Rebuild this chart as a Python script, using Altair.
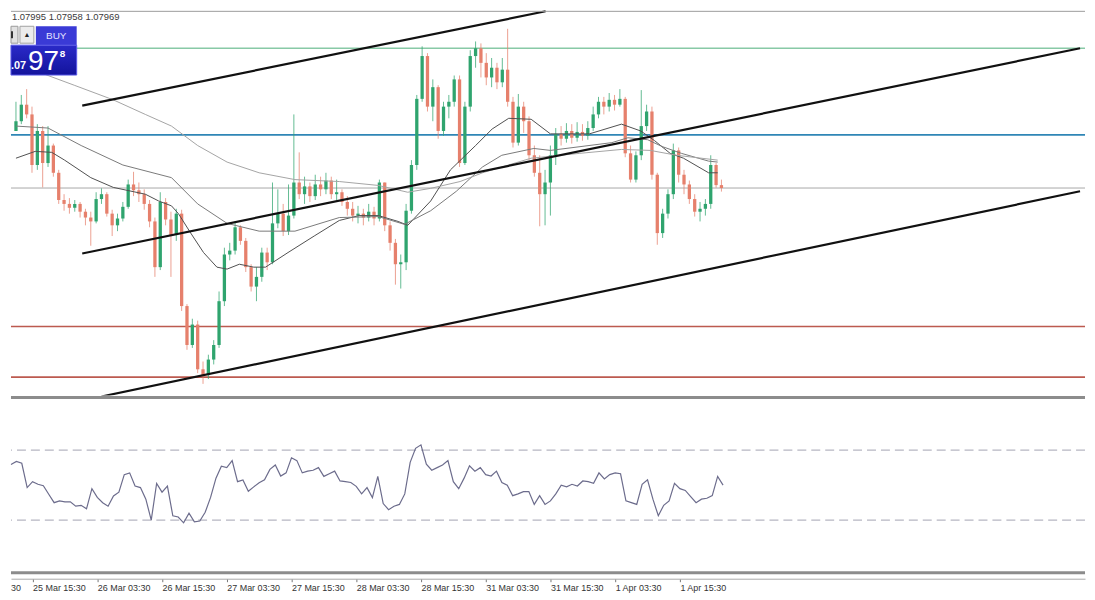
import json
import altair as alt
import pandas as pd

W = 1079
H_MAIN = 388
H_RSI = 176

# ---------------- data ----------------
bar_index = list(range(-4, 129))          # H1 bars, 0 = 25 Mar 15:30
first_open = 1.08145

close_px = [
    1.08175, 1.08226, 1.08196, 1.08040, 1.08145, 1.08046, 1.08100, 1.08016, 1.07932, 1.07920,
    1.07908, 1.07920, 1.07896, 1.07878, 1.07866, 1.07935, 1.07950, 1.07890, 1.07854, 1.07875,
    1.07911, 1.07980, 1.07962, 1.07950, 1.07920, 1.07866, 1.07725, 1.07926, 1.07872, 1.07824,
    1.07890, 1.07605, 1.07485, 1.07548, 1.07410, 1.07392, 1.07440, 1.07485, 1.07620, 1.07764,
    1.07776, 1.07848, 1.07806, 1.07725, 1.07665, 1.07695, 1.07770, 1.07740, 1.07860, 1.07890,
    1.07836, 1.07884, 1.07986, 1.07950, 1.07974, 1.07944, 1.07980, 1.07965, 1.07992, 1.07950,
    1.07956, 1.07926, 1.07905, 1.07884, 1.07890, 1.07878, 1.07896, 1.07875, 1.07986, 1.07854,
    1.07800, 1.07734, 1.07740, 1.07899, 1.08040, 1.08244, 1.08376, 1.08220, 1.08280, 1.08145,
    1.08220, 1.08235, 1.08304, 1.08046, 1.08220, 1.08376, 1.08400, 1.08355, 1.08310, 1.08340,
    1.08295, 1.08334, 1.08235, 1.08109, 1.08220, 1.08175, 1.08070, 1.08016, 1.07950, 1.07986,
    1.08070, 1.08136, 1.08121, 1.08145, 1.08124, 1.08142, 1.08130, 1.08154, 1.08196, 1.08235,
    1.08220, 1.08241, 1.08226, 1.08244, 1.08076, 1.07995, 1.08070, 1.08160, 1.08205, 1.08010,
    1.07830, 1.07890, 1.07950, 1.08085, 1.08010, 1.07980, 1.07935, 1.07896, 1.07905, 1.07920,
    1.08040, 1.07978, 1.07969,
]
high_px = [
    1.08235, 1.08256, 1.08274, 1.08220, 1.08166, 1.08160, 1.08160, 1.08106, 1.08025, 1.07950,
    1.07938, 1.07932, 1.07926, 1.07905, 1.07896, 1.07956, 1.07968, 1.07956, 1.07902, 1.07890,
    1.07926, 1.07995, 1.08019, 1.07986, 1.07965, 1.07932, 1.07878, 1.07956, 1.07938, 1.07896,
    1.07905, 1.07902, 1.07611, 1.07566, 1.07560, 1.07434, 1.07455, 1.07500, 1.07650, 1.07785,
    1.07800, 1.07866, 1.07854, 1.07815, 1.07734, 1.07725, 1.07785, 1.07785, 1.07986, 1.07965,
    1.07920, 1.07980, 1.08196, 1.08079, 1.08004, 1.07986, 1.08010, 1.08004, 1.08016, 1.08004,
    1.07995, 1.07965, 1.07944, 1.07926, 1.07914, 1.07905, 1.07920, 1.07911, 1.07995, 1.07986,
    1.07866, 1.07812, 1.07764, 1.07920, 1.08055, 1.08256, 1.08406, 1.08385, 1.08304, 1.08286,
    1.08235, 1.08256, 1.08316, 1.08316, 1.08235, 1.08394, 1.08421, 1.08415, 1.08385, 1.08370,
    1.08355, 1.08370, 1.08460, 1.08250, 1.08259, 1.08235, 1.08190, 1.08100, 1.08070, 1.08025,
    1.08100, 1.08154, 1.08160, 1.08169, 1.08166, 1.08172, 1.08166, 1.08175, 1.08220, 1.08250,
    1.08250, 1.08262, 1.08256, 1.08274, 1.08250, 1.08100, 1.08082, 1.08271, 1.08226, 1.08220,
    1.08016, 1.07905, 1.07965, 1.08106, 1.08094, 1.08025, 1.07992, 1.07950, 1.07926, 1.07935,
    1.08070, 1.08046, 1.07995,
]
low_px = [
    1.08145, 1.08166, 1.08184, 1.08016, 1.08025, 1.07971, 1.08034, 1.08004, 1.07920, 1.07899,
    1.07890, 1.07896, 1.07878, 1.07854, 1.07791, 1.07860, 1.07920, 1.07881, 1.07821, 1.07836,
    1.07866, 1.07905, 1.07944, 1.07926, 1.07902, 1.07848, 1.07695, 1.07716, 1.07854, 1.07695,
    1.07806, 1.07590, 1.07470, 1.07476, 1.07398, 1.07365, 1.07380, 1.07425, 1.07476, 1.07605,
    1.07746, 1.07764, 1.07794, 1.07710, 1.07650, 1.07620, 1.07680, 1.07716, 1.07734, 1.07845,
    1.07821, 1.07824, 1.07875, 1.07935, 1.07920, 1.07926, 1.07932, 1.07944, 1.07950, 1.07935,
    1.07932, 1.07914, 1.07884, 1.07866, 1.07860, 1.07854, 1.07866, 1.07854, 1.07866, 1.07836,
    1.07776, 1.07671, 1.07659, 1.07716, 1.07890, 1.08025, 1.08235, 1.08205, 1.08175, 1.08121,
    1.08130, 1.08184, 1.08220, 1.08034, 1.08040, 1.08205, 1.08340, 1.08310, 1.08286, 1.08280,
    1.08274, 1.08280, 1.08220, 1.08094, 1.08100, 1.08139, 1.08055, 1.08004, 1.07851, 1.07854,
    1.07884, 1.08040, 1.08100, 1.08109, 1.08106, 1.08112, 1.08115, 1.08118, 1.08145, 1.08184,
    1.08196, 1.08205, 1.08208, 1.08220, 1.08064, 1.07986, 1.07986, 1.08055, 1.08145, 1.07995,
    1.07794, 1.07815, 1.07875, 1.07935, 1.07986, 1.07950, 1.07920, 1.07881, 1.07866, 1.07884,
    1.07905, 1.07970, 1.07958,
]
rsi_values = [
    61.8, 63.5, 62.5, 48.6, 52.0, 50.5, 49.7, 44.8, 40.0, 41.0,
    40.5, 40.5, 38.0, 38.5, 36.5, 48.0, 43.0, 40.0, 38.0, 43.8,
    46.0, 56.0, 57.0, 49.5, 48.6, 42.0, 30.0, 51.0, 46.0, 49.5,
    32.5, 31.8, 28.5, 34.0, 29.0, 29.5, 34.5, 43.0, 54.0, 60.8,
    60.0, 64.0, 52.0, 53.0, 46.5, 49.0, 51.4, 53.0, 59.0, 61.5,
    55.2, 57.0, 65.6, 64.0, 57.0, 58.0, 58.5, 60.0, 55.0, 56.5,
    58.0, 52.4, 52.0, 51.5, 49.3, 45.0, 48.6, 42.9, 55.0, 39.5,
    36.0, 38.0, 39.0, 45.0, 63.0, 71.0, 73.0, 62.0, 58.5, 60.0,
    61.5, 64.0, 52.0, 48.0, 54.0, 61.0, 58.0, 60.0, 56.0, 55.2,
    58.0, 51.5, 50.0, 44.0, 45.0, 46.3, 46.3, 39.0, 44.0, 39.0,
    41.0, 45.0, 50.0, 49.0, 50.5, 49.5, 52.4, 52.0, 51.0, 57.0,
    53.5, 56.0, 57.0, 56.5, 41.0, 40.0, 39.0, 50.5, 53.0, 42.0,
    32.5, 38.5, 41.0, 51.0, 48.0, 47.0, 43.5, 40.0, 42.0, 42.5,
    44.0, 55.0, 50.0,
]

ma_fast_k = [-4.0, -0.4, 2.7, 5.1, 10.0, 14.2, 20.2, 22.7, 25.1, 26.4, 28.7, 31.1, 33.6,
             35.5, 37.8, 40.5, 42.7, 46.9, 51.8, 56.5, 60.2, 63.8, 67.5, 69.3, 73.6, 77.3,
             82.0, 85.1, 88.2, 92.4, 96.0, 103.3, 109.3, 112.9, 115.5, 118.4, 120.9, 125.6, 127.3]
ma_fast_p = [1.08061, 1.08082, 1.08079, 1.08055, 1.08001, 1.07971, 1.07950, 1.07929, 1.07914,
             1.07890, 1.07830, 1.07770, 1.07725, 1.07719, 1.07734, 1.07725, 1.07725, 1.07770,
             1.07821, 1.07869, 1.07884, 1.07884, 1.07866, 1.07854, 1.07929, 1.08025, 1.08100,
             1.08151, 1.08184, 1.08181, 1.08136, 1.08136, 1.08166, 1.08145, 1.08115, 1.08076,
             1.08061, 1.08016, 1.08016]
ma_mid_k = [-4.0, 2.0, 8.2, 16.0, 25.1, 30.0, 35.5, 41.5, 48.2, 56.5, 63.8, 68.7, 73.6, 78.4,
            83.3, 86.9, 92.9, 96.0, 107.5, 110.5, 114.2, 116.9, 120.5, 125.6, 127.3]
ma_mid_p = [1.08160, 1.08154, 1.08100, 1.08040, 1.08001, 1.07920, 1.07860, 1.07836, 1.07836,
            1.07878, 1.07881, 1.07857, 1.07899, 1.07959, 1.08034, 1.08070, 1.08091, 1.08085,
            1.08109, 1.08124, 1.08118, 1.08097, 1.08076, 1.08052, 1.08049]
ma_slow_k = [-4.0, 2.0, 6.9, 14.2, 20.2, 25.1, 30.0, 35.5, 41.5, 48.2, 56.5, 63.8, 69.3, 73.6,
             79.1, 83.3, 92.4, 101.5, 109.3, 114.7, 119.6, 127.3]
ma_slow_p = [1.08352, 1.08316, 1.08286, 1.08241, 1.08196, 1.08160, 1.08100, 1.08049, 1.08016,
             1.07995, 1.07989, 1.07977, 1.07956, 1.07968, 1.07989, 1.08016, 1.08061, 1.08076,
             1.08088, 1.08085, 1.08070, 1.08055]

level_names = ["resistance", "pivot", "bid", "support1", "support2"]
level_prices = [1.08400, 1.08133, 1.07969, 1.07542, 1.07386]

channel_names = ["upper", "upper", "middle", "middle", "lower", "lower"]
channel_k = [8.4, 95.1, 8.4, 195.1, 12.0, 195.1]
channel_p = [1.08223, 1.08514, 1.07767, 1.08400, 1.07326, 1.07959]

rsi_levels = [70, 30]
rsi_edges = [100, 0]

tick_bars = [0, 12, 24, 36, 48, 60, 72, 84, 96, 108, 120]
tick_labels = ["25 Mar 15:30", "26 Mar 03:30", "26 Mar 15:30", "27 Mar 03:30",
               "27 Mar 15:30", "28 Mar 03:30", "28 Mar 15:30", "31 Mar 03:30",
               "31 Mar 15:30", "1 Apr 03:30", "1 Apr 15:30"]

quote_text = "1.07995 1.07958 1.07969"

assert len(close_px) == len(high_px) == len(low_px) == len(rsi_values) == len(bar_index)

# ---------------- tables ----------------
open_px = [first_open] + close_px[:-1]
candles = pd.DataFrame({"k": bar_index, "open": open_px, "high": high_px,
                        "low": low_px, "close": close_px})
candles["dir"] = ["bull" if c >= o else "bear" for o, c in zip(open_px, close_px)]

ma_df = pd.concat([
    pd.DataFrame({"k": ma_fast_k, "p": ma_fast_p, "ma": "fast"}),
    pd.DataFrame({"k": ma_mid_k, "p": ma_mid_p, "ma": "mid"}),
    pd.DataFrame({"k": ma_slow_k, "p": ma_slow_p, "ma": "slow"}),
], ignore_index=True)

levels_df = pd.DataFrame({"name": level_names, "price": level_prices})
channel_df = pd.DataFrame({"name": channel_names, "k": channel_k, "p": channel_p})
rsi_df = pd.DataFrame({"k": bar_index, "rsi": rsi_values})
rsi_lv_df = pd.DataFrame({"level": rsi_levels})
rsi_edge_df = pd.DataFrame({"edge": rsi_edges})
dummy = pd.DataFrame({"d": [0]})

# ---------------- scales ----------------
x_scale = alt.Scale(domain=[-4, 195.1], nice=False, zero=False)
p_scale = alt.Scale(domain=[1.07329, 1.08520], nice=False, zero=False)
r_scale = alt.Scale(domain=[0, 100], nice=False, zero=False)
X = alt.X("k:Q", scale=x_scale, axis=None)

CANDLE_COLORS = {"bull": "#2fa46e", "bear": "#e6806c"}
MA_COLORS = {"fast": "#505050", "mid": "#7a7a7a", "slow": "#a4a4a4"}
LEVEL_STYLE = {"resistance": ("#88c9a6", 1.3), "pivot": ("#2f86b6", 1.6),
               "bid": ("#a8a8a8", 1.0), "support1": ("#bc5a4f", 1.7),
               "support2": ("#bc5a4f", 1.7)}

# ---------------- main panel ----------------
level_layers = [
    alt.Chart(levels_df).transform_filter(alt.datum.name == nm)
    .mark_rule(color=LEVEL_STYLE[nm][0], strokeWidth=LEVEL_STYLE[nm][1])
    .encode(y=alt.Y("price:Q", scale=p_scale, axis=None))
    for nm in level_names
]

candle_layers = []
for d, col in CANDLE_COLORS.items():
    base = alt.Chart(candles).transform_filter(alt.datum.dir == d)
    candle_layers.append(base.mark_rule(strokeWidth=1, opacity=0.75, color=col).encode(
        x=X, y=alt.Y("low:Q", scale=p_scale, axis=None), y2="high:Q"))
    candle_layers.append(base.mark_bar(size=3.3, color=col).encode(
        x=X, y=alt.Y("open:Q", scale=p_scale, axis=None), y2="close:Q"))

ma_layers = [
    alt.Chart(ma_df).transform_filter(alt.datum.ma == nm)
    .mark_line(strokeWidth=1, color=col, clip=True)
    .encode(x=X, y=alt.Y("p:Q", scale=p_scale, axis=None))
    for nm, col in MA_COLORS.items()
]

channels = alt.Chart(channel_df).mark_line(strokeWidth=2.2, color="#111111", clip=True).encode(
    x=X, y=alt.Y("p:Q", scale=p_scale, axis=None), detail="name:N")

top_border = alt.Chart(dummy).mark_rule(color="#9c9c9c", strokeWidth=1).encode(
    x=alt.value(0), x2=alt.value(W), y=alt.value(2))

quote = alt.Chart(dummy).mark_text(text=quote_text, align="left", baseline="middle",
                                   font="Liberation Sans", fontSize=9.5, color="#3a3a3a").encode(
    x=alt.value(1), y=alt.value(8))

btn1 = alt.Chart(dummy).mark_rect(fill="#e2e2e2", stroke="#9a9a9a", strokeWidth=1).encode(
    x=alt.value(0), x2=alt.value(7), y=alt.value(17), y2=alt.value(34))
btn1_icon = alt.Chart(dummy).mark_rect(fill="#333333").encode(
    x=alt.value(0), x2=alt.value(2), y=alt.value(22), y2=alt.value(29))
btn2 = alt.Chart(dummy).mark_rect(fill="#ececec", stroke="#a0a0a0", strokeWidth=1).encode(
    x=alt.value(9), x2=alt.value(23), y=alt.value(17), y2=alt.value(34))
btn2_txt = alt.Chart(dummy).mark_text(text="▲", fontSize=7, color="#222222",
                                      baseline="middle", align="center").encode(
    x=alt.value(16), y=alt.value(25.5))
buy_head = alt.Chart(dummy).mark_rect(fill="#3a3ad6").encode(
    x=alt.value(25), x2=alt.value(66), y=alt.value(17), y2=alt.value(36))
buy_txt = alt.Chart(dummy).mark_text(text="BUY", fontSize=10, color="#e4e4ff",
                                     font="Liberation Sans", baseline="middle", align="center").encode(
    x=alt.value(45.5), y=alt.value(26.5))
price_box = alt.Chart(dummy).mark_rect(
    fill=alt.Gradient(gradient="linear",
                      stops=[alt.GradientStop(color="#2a2ac8", offset=0),
                             alt.GradientStop(color="#13139c", offset=1)],
                      x1=0, x2=0, y1=0, y2=1),
    stroke="#5a5ae8", strokeWidth=1).encode(
    x=alt.value(0), x2=alt.value(66), y=alt.value(36), y2=alt.value(66))
p_small = alt.Chart(dummy).mark_text(text=".07", fontSize=11, fontWeight="bold", color="#ffffff",
                                     font="Liberation Sans", align="left", baseline="alphabetic").encode(
    x=alt.value(0), y=alt.value(60))
p_big = alt.Chart(dummy).mark_text(text="97", fontSize=28, color="#ffffff",
                                   font="Liberation Sans", align="left", baseline="alphabetic").encode(
    x=alt.value(17), y=alt.value(61))
p_sup = alt.Chart(dummy).mark_text(text="8", fontSize=10, fontWeight="bold", color="#ffffff",
                                   font="Liberation Sans", align="left", baseline="alphabetic").encode(
    x=alt.value(49), y=alt.value(48))

main = alt.layer(*level_layers, *candle_layers, *ma_layers, channels, top_border, quote,
                 btn1, btn1_icon, btn2, btn2_txt, buy_head, buy_txt, price_box,
                 p_small, p_big, p_sup).properties(width=W, height=H_MAIN)

# ---------------- RSI panel ----------------
label_expr = json.dumps(tick_labels) + "[round(datum.value / 12)]"
x_axis = alt.Axis(values=tick_bars, labelExpr=label_expr, labelAlign="left", labelBaseline="top",
                  labelPadding=2, labelFont="Liberation Sans", labelFontSize=9,
                  labelColor="#333333", tickSize=3, tickColor="#777777", domainColor="#a8a8a8",
                  domainWidth=1, offset=6, grid=False, labelOverlap=False, labelFlush=False,
                  labelBound=False)

rsi_line = alt.Chart(rsi_df).mark_line(color="#6c6c8c", strokeWidth=1.2).encode(
    x=alt.X("k:Q", scale=x_scale, axis=x_axis, title=None),
    y=alt.Y("rsi:Q", scale=r_scale, axis=None))
rsi_lv = alt.Chart(rsi_lv_df).mark_rule(color="#b6b6c2", strokeWidth=1.2, strokeDash=[9, 5]).encode(
    y=alt.Y("level:Q", scale=r_scale, axis=None))
rsi_edge = alt.Chart(rsi_edge_df).mark_rule(color="#8c8c8c", strokeWidth=3).encode(
    y=alt.Y("edge:Q", scale=r_scale, axis=None))
cut_label = alt.Chart(dummy).mark_text(text="30", align="left", baseline="top",
                                       font="Liberation Sans", fontSize=9, color="#333333").encode(
    x=alt.value(0), y=alt.value(H_RSI + 11))

rsi_panel = alt.layer(rsi_lv, rsi_edge, rsi_line, cut_label).properties(width=W, height=H_RSI)

chart = alt.vconcat(main, rsi_panel, spacing=0).properties(
    padding=0, background="#ffffff").configure_view(stroke=None)

chart.save("out.html", embed_options={"renderer": "svg", "actions": False})
